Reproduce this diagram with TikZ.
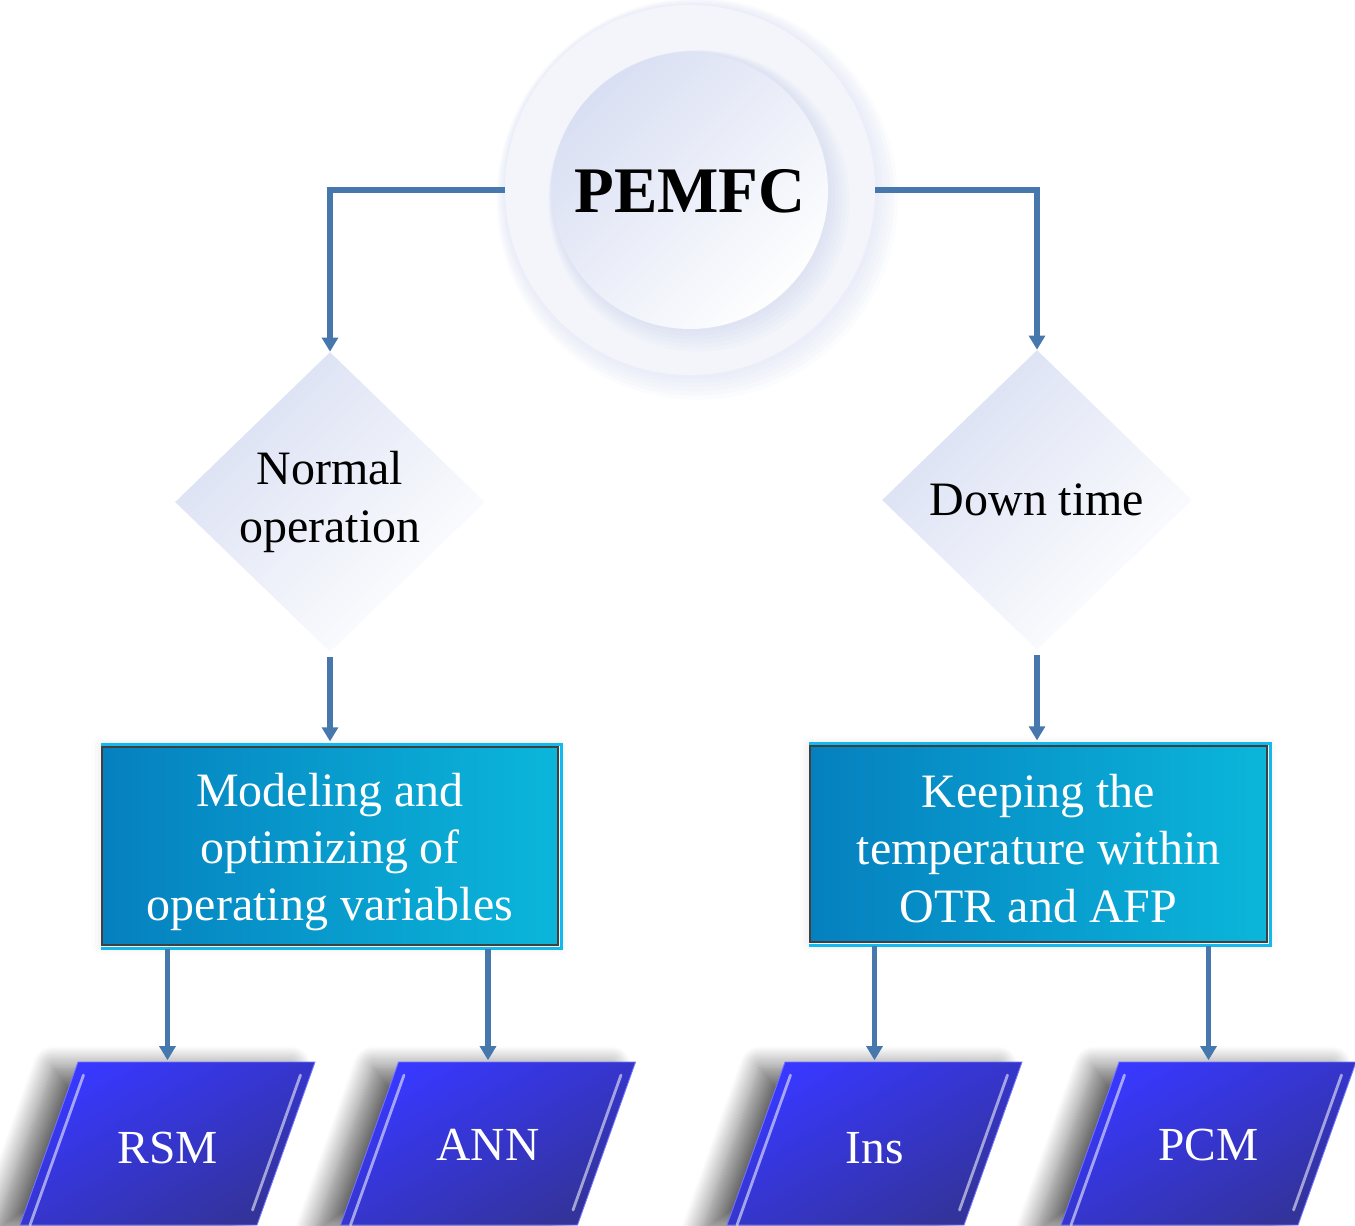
\documentclass[tikz,border=0pt]{standalone}
\usepackage{fontspec}
\setmainfont{Liberation Serif}
\usetikzlibrary{shapes.geometric,arrows.meta,shadows.blur,calc}
\definecolor{connblue}{HTML}{4677AD}
\definecolor{halo}{HTML}{C5CFEC}
\definecolor{ringfill}{HTML}{F3F5FB}
\definecolor{lav}{HTML}{D9DFF3}
\definecolor{boxl}{HTML}{0580BF}
\definecolor{boxr}{HTML}{0BB6DA}
\definecolor{framecol}{HTML}{12B9EC}
\definecolor{pbright}{HTML}{3838FF}
\definecolor{pdark}{HTML}{33339A}
\tikzset{
 outerc/.style={circle, minimum size=7.4cm, fill=ringfill, inner sep=0pt},
 innerc/.style={circle, minimum size=5.52cm, inner sep=0pt, top color=lav, bottom color=white!97!lav, shading angle=45},
 dia/.style={diamond, minimum width=6.2cm, minimum height=6cm, inner sep=0pt, top color=lav, bottom color=white, shading angle=45, align=center, font=\fontsize{27.3}{33}\selectfont},
 procbox/.style={rectangle, inner sep=0pt, left color=boxl, right color=boxr, draw=black!75, line width=0.8pt, text=white, align=center, font=\fontsize{27.3}{32.6}\selectfont, blur shadow={shadow xshift=0pt, shadow yshift=0pt, shadow opacity=12, shadow blur radius=6pt}},
 parafill/.style={top color=pbright, bottom color=pdark, shading angle=30, draw=pbright!70!white, line width=0.5pt, blur shadow={shadow xshift=-14pt, shadow yshift=-3pt, shadow opacity=60, shadow blur radius=12pt, shadow blur steps=20}},
 paratext/.style={text=white, inner sep=0pt, font=\fontsize{27}{32}\selectfont},
 conn/.style={draw=connblue, line width=3pt, -{Triangle[width=9pt,length=8pt]}},
 bevel/.style={draw=white, opacity=0.55, line width=1.6pt, line cap=round},
 frameline/.style={draw=framecol, line width=1.8pt},
}
\begin{document}
\begin{tikzpicture}[x=0.02cm,y=-0.02cm]
\useasboundingbox (0,0) rectangle (1355,1225);
\clip (0,0) rectangle (1355,1225);
% halo of the outer ring
\foreach \i in {1,...,6}
  \fill[halo, opacity=0.07] ($(690,190)+(\i*1.2,\i*1.5)$) circle[radius={3.7cm+\i*1.5pt}];
\node[outerc] (outer) at (690,190) {};
\foreach \i in {1,...,6}
  \fill[halo, opacity=0.08] ($(690,190)+(\i*1.5,\i*1.8)$) circle[radius={2.76cm+\i*1.2pt}];
\node[innerc] (inner) at (690,191) {\fontsize{37}{44}\selectfont\bfseries PEMFC};

% decisions
\node[dia] (nd) at (330,502) {Normal\\operation};
\node[dia] (dt) at (1037,500) {Down time};

% process boxes
\node[procbox, minimum width=9.12cm, minimum height=3.96cm] (mbox) at (330,846)
  {\rule{0pt}{26pt}Modeling and\\optimizing of\\operating variables};
\draw[frameline] ([shift={(0,-2)}]mbox.north west) -- ([shift={(3,-2)}]mbox.north east)
  -- ([shift={(3,3)}]mbox.south east) -- ([shift={(0,3)}]mbox.south west);
\node[procbox, minimum width=9.14cm, minimum height=3.92cm] (kbox) at (1038.5,844)
  {\rule{0pt}{24pt}Keeping the\\temperature within\\OTR and AFP};
\draw[frameline] ([shift={(0,-2)}]kbox.north west) -- ([shift={(3,-2)}]kbox.north east)
  -- ([shift={(3,3)}]kbox.south east) -- ([shift={(0,3)}]kbox.south west);

% methods (parallelograms)
\foreach \n/\cx/\ty/\lab in {rsm/167.5/1148/RSM, ann/488/1145/ANN, ins/874.5/1148/Ins, pcm/1208.5/1145/PCM}{
  \path[parafill] (\cx-89.5,1062) -- (\cx+147.5,1062) -- (\cx+89.5,1225) -- (\cx-147.5,1225) -- cycle;
  \draw[bevel] (\cx-84,1075) -- (\cx-137.5,1225);
  \draw[bevel] (\cx+133,1075) -- (\cx+85,1210);
  \coordinate (top\n) at (\cx,1062);
  \node[paratext] (\n) at (\cx,\ty) {\lab};
}

% connectors
\draw[conn] (outer.west) -| (nd.north);
\draw[conn] (outer.east) -| (dt.north);
\draw[conn, shorten <=2.8pt, shorten >=2.8pt] (nd.south) -- (mbox.north);
\draw[conn, shorten <=2.8pt, shorten >=2.8pt] (dt.south) -- (dt.south |- kbox.north);
\draw[conn, shorten <=2pt, shorten >=1pt] (mbox.south -| toprsm) -- (toprsm);
\draw[conn, shorten <=2pt, shorten >=1pt] (mbox.south -| topann) -- (topann);
\draw[conn, shorten <=2pt, shorten >=1pt] (kbox.south -| topins) -- (topins);
\draw[conn, shorten <=2pt, shorten >=1pt] (kbox.south -| toppcm) -- (toppcm);
\end{tikzpicture}
\end{document}
